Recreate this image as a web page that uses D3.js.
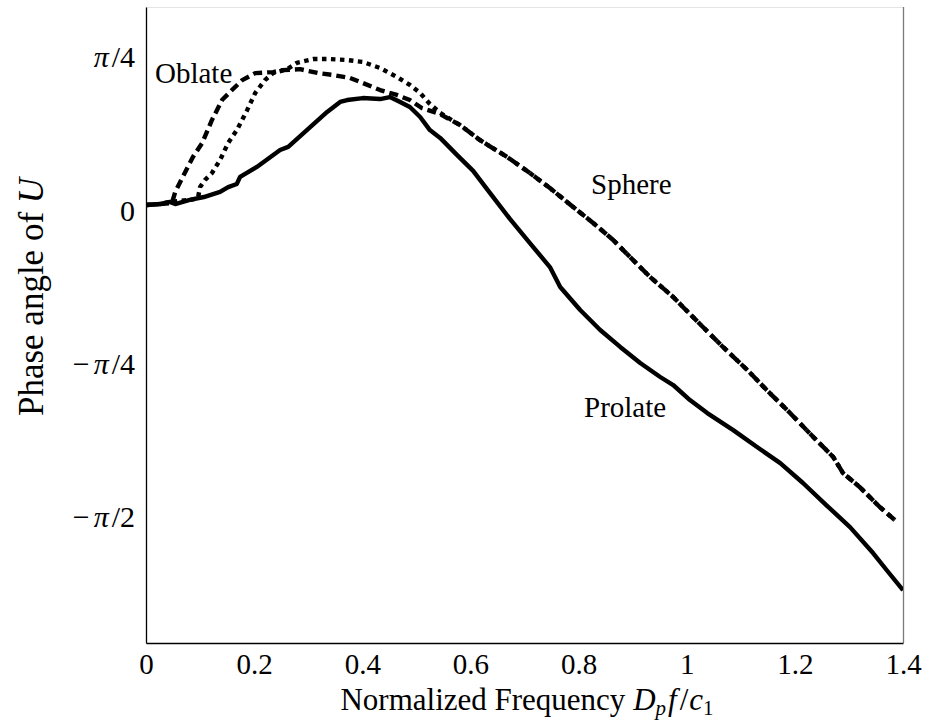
<!DOCTYPE html>
<html>
<head>
<meta charset="utf-8">
<script src="https://cdn.jsdelivr.net/npm/d3@7"></script>
<style>
  html, body { margin: 0; padding: 0; background: #fff; }
  svg { display: block; }
  text { font-family: "Liberation Serif", "DejaVu Serif", serif; fill: #000; }
</style>
</head>
<body>
<svg id="chart" width="936" height="722"></svg>
<script>
// Normalized frequency D_p f / c_1 and phase angle of U (radians)
const prolateFreq  = [0, 0.026, 0.044, 0.054, 0.081, 0.107, 0.137, 0.152, 0.168, 0.174, 0.205, 0.248, 0.263, 0.298, 0.335, 0.359, 0.372, 0.401, 0.433, 0.451, 0.470, 0.488, 0.507, 0.525, 0.544, 0.575, 0.605, 0.636, 0.673, 0.710, 0.747, 0.766, 0.803, 0.840, 0.877, 0.914, 0.951, 0.975, 1.006, 1.038, 1.086, 1.130, 1.173, 1.215, 1.260, 1.302, 1.345, 1.370, 1.400];
const prolatePhase = [0.027, 0.032, 0.043, 0.032, 0.053, 0.068, 0.094, 0.119, 0.135, 0.171, 0.222, 0.309, 0.325, 0.412, 0.504, 0.555, 0.565, 0.575, 0.570, 0.580, 0.555, 0.529, 0.478, 0.411, 0.371, 0.284, 0.202, 0.089, -0.044, -0.168, -0.291, -0.393, -0.511, -0.613, -0.700, -0.782, -0.854, -0.895, -0.972, -1.039, -1.126, -1.213, -1.295, -1.397, -1.515, -1.623, -1.757, -1.844, -1.946];

const oblateFreq  = [0, 0.026, 0.048, 0.054, 0.068, 0.087, 0.104, 0.122, 0.141, 0.159, 0.178, 0.202, 0.235, 0.253, 0.285, 0.318, 0.346, 0.377, 0.401, 0.433, 0.464, 0.488, 0.510, 0.544, 0.581, 0.618, 0.668, 0.710, 0.747, 0.790, 0.827, 0.864, 0.895, 0.932, 0.975, 0.993, 1.030, 1.067, 1.112, 1.148, 1.191, 1.234, 1.271, 1.289, 1.320, 1.357, 1.385];
const oblatePhase = [0.027, 0.032, 0.037, 0.094, 0.171, 0.274, 0.345, 0.463, 0.566, 0.616, 0.667, 0.703, 0.708, 0.718, 0.723, 0.703, 0.693, 0.678, 0.652, 0.616, 0.591, 0.565, 0.524, 0.493, 0.436, 0.359, 0.273, 0.191, 0.114, 0.017, -0.065, -0.152, -0.239, -0.341, -0.444, -0.495, -0.598, -0.700, -0.818, -0.921, -1.038, -1.161, -1.264, -1.346, -1.418, -1.520, -1.587];

const sphereFreq  = [0, 0.026, 0.044, 0.081, 0.096, 0.100, 0.109, 0.122, 0.137, 0.152, 0.168, 0.187, 0.202, 0.220, 0.235, 0.261, 0.279, 0.309, 0.340, 0.372, 0.401, 0.433, 0.464, 0.488, 0.507, 0.525, 0.544, 0.581, 0.618, 0.668, 0.710, 0.747, 0.790, 0.827, 0.864, 0.895, 0.932, 0.975, 0.993, 1.030, 1.067, 1.112, 1.148, 1.191, 1.234, 1.271, 1.289, 1.320, 1.357, 1.385];
const spherePhase = [0.027, 0.032, 0.043, 0.053, 0.062, 0.119, 0.155, 0.191, 0.258, 0.345, 0.411, 0.513, 0.601, 0.667, 0.703, 0.723, 0.755, 0.775, 0.775, 0.770, 0.760, 0.729, 0.683, 0.642, 0.601, 0.545, 0.499, 0.436, 0.359, 0.273, 0.191, 0.114, 0.017, -0.065, -0.152, -0.239, -0.341, -0.444, -0.495, -0.598, -0.700, -0.818, -0.921, -1.038, -1.161, -1.264, -1.346, -1.418, -1.520, -1.587];

const xTickValues = [0, 0.2, 0.4, 0.6, 0.8, 1, 1.2, 1.4];
const xTickLabels = ["0", "0.2", "0.4", "0.6", "0.8", "1", "1.2", "1.4"];
const yTickValues = [Math.PI / 4, 0, -Math.PI / 4, -Math.PI / 2];
const yTickLabels = [["", "π", "/4"], ["0", "", ""], ["−", "π", "/4"], ["−", "π", "/2"]];

const seriesNames = ["Prolate", "Oblate", "Sphere"];

const svg = d3.select("#chart");
const plot = { left: 146, right: 903, top: 7, bottom: 643 };

const x = d3.scaleLinear().domain([0, 1.4]).range([plot.left, plot.right]);
const y = d3.scaleLinear().domain([-2.2167, 1.0415]).range([plot.bottom, plot.top]);

// frame: light top/right edges, black axes on left/bottom
svg.append("line").attr("x1", plot.left).attr("x2", plot.right)
  .attr("y1", plot.top + 0.5).attr("y2", plot.top + 0.5)
  .attr("stroke", "#e4e4e4").attr("stroke-width", 1);
svg.append("line").attr("x1", plot.right + 0.5).attr("x2", plot.right + 0.5)
  .attr("y1", plot.top).attr("y2", plot.bottom)
  .attr("stroke", "#7a7a7a").attr("stroke-width", 1.3);

const xAxis = svg.append("g")
  .attr("transform", `translate(0,${plot.bottom})`)
  .call(d3.axisBottom(x).tickValues(xTickValues).tickSize(0).tickPadding(0)
    .tickFormat((d, i) => xTickLabels[i]));
xAxis.select(".domain").attr("stroke", "#000").attr("stroke-width", 1.3);
xAxis.selectAll(".tick text")
  .attr("font-family", "\"Liberation Serif\", serif")
  .attr("font-size", 29).attr("fill", "#000")
  .attr("dy", null).attr("y", 31);

const yAxis = svg.append("g")
  .attr("transform", `translate(${plot.left},0)`)
  .call(d3.axisLeft(y).tickValues(yTickValues).tickSize(0).tickPadding(0)
    .tickFormat(() => ""));
yAxis.select(".domain").attr("stroke", "#000").attr("stroke-width", 1.3);
yAxis.selectAll(".tick text").each(function (d, i) {
  const t = d3.select(this)
    .attr("font-family", "\"Liberation Serif\", serif")
    .attr("font-size", 30).attr("fill", "#000")
    .attr("x", -11).attr("dy", "0.33em").attr("text-anchor", "end");
  const parts = yTickLabels[i];
  t.text(null);
  if (parts[0]) t.append("tspan").text(parts[0]);
  if (parts[1]) t.append("tspan").attr("font-style", "italic").attr("dx", parts[0] ? 4 : 0).text(parts[1]);
  if (parts[2]) t.append("tspan").attr("dx", 3).text(parts[2]);
});

// axis titles
const xTitle = svg.append("text")
  .attr("x", 527).attr("y", 710)
  .attr("text-anchor", "middle").attr("font-size", 31);
xTitle.append("tspan").text("Normalized Frequency ");
xTitle.append("tspan").attr("font-style", "italic").text("D");
xTitle.append("tspan").attr("font-style", "italic").attr("font-size", 21).attr("dy", 5).text("p");
xTitle.append("tspan").attr("font-style", "italic").attr("dy", -5).attr("dx", 2).text("f");
xTitle.append("tspan").attr("dx", 3).text("/");
xTitle.append("tspan").attr("font-style", "italic").attr("dx", 1).text("c");
xTitle.append("tspan").attr("font-size", 21).attr("dy", 5).text("1");

const yTitle = svg.append("text")
  .attr("transform", "translate(43,297) rotate(-90)")
  .attr("text-anchor", "middle").attr("font-size", 35);
yTitle.append("tspan").text("Phase angle of ");
yTitle.append("tspan").attr("font-style", "italic").text("U");

// curves
svg.append("clipPath").attr("id", "plot-area")
  .append("rect").attr("x", plot.left).attr("y", plot.top)
  .attr("width", plot.right - plot.left).attr("height", plot.bottom - plot.top);

const line = d3.line().x(d => x(d[0])).y(d => y(d[1])).curve(d3.curveLinear);
const series = [
  { name: seriesNames[0], pts: d3.zip(prolateFreq, prolatePhase), dash: null },
  { name: seriesNames[1], pts: d3.zip(oblateFreq, oblatePhase), dash: "9,5" },
  { name: seriesNames[2], pts: d3.zip(sphereFreq, spherePhase), dash: "4.5,4.5" }
];

const curves = svg.append("g").attr("clip-path", "url(#plot-area)");
series.forEach(s => {
  curves.append("path")
    .datum(s.pts)
    .attr("d", line)
    .attr("fill", "none")
    .attr("stroke", "#000")
    .attr("stroke-width", 4.4)
    .attr("stroke-linejoin", "round")
    .attr("stroke-linecap", "butt")
    .attr("stroke-dasharray", s.dash);
});

// curve labels
svg.append("text").attr("x", 155).attr("y", 83).attr("font-size", 29).text(seriesNames[1]);
svg.append("text").attr("x", 591).attr("y", 194).attr("font-size", 29).text(seriesNames[2]);
svg.append("text").attr("x", 584).attr("y", 417).attr("font-size", 29).text(seriesNames[0]);
</script>
</body>
</html>
